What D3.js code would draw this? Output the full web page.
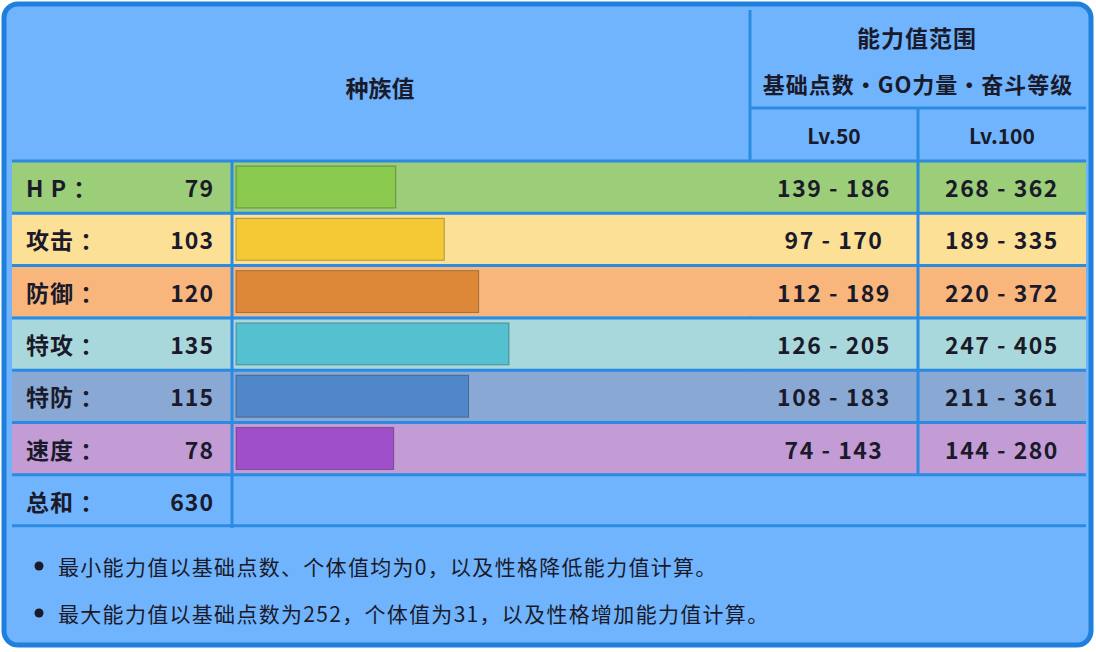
<!DOCTYPE html>
<html><head><meta charset="utf-8">
<script src="https://cdn.jsdelivr.net/npm/d3@7"></script>
<style>body{margin:0;background:#fff}</style>
</head><body><svg id="c" width="1096" height="652"></svg>
<script>
// stats table data
const statNames = ["H P ：", "攻击 ：", "防御 ：", "特攻 ：", "特防 ：", "速度 ："];
const baseStats = [79, 103, 120, 135, 115, 78];
const lv50 = ["139 - 186", "97 - 170", "112 - 189", "126 - 205", "108 - 183", "74 - 143"];
const lv100 = ["268 - 362", "189 - 335", "220 - 372", "247 - 405", "211 - 361", "144 - 280"];
const rowFill = ["#9ccd78", "#fbe096", "#f8b67c", "#a9d8dc", "#89a9d4", "#c39cd6"];
const barFill = ["#88c94e", "#f5c935", "#dc8838", "#54c0d0", "#4f87c9", "#a04fcb"];
const total = 630;
const notes = ["最小能力值以基础点数、个体值均为0，以及性格降低能力值计算。",
  "最大能力值以基础点数为252，个体值为31，以及性格增加能力值计算。"];

const svg = d3.select("#c");
const font = "'Noto Sans CJK SC', 'Noto Sans', sans-serif";
const line = "#2b8be3", head = "#70b4fd", ink = "#1a1a2a";

svg.append("rect").attr("x", 4).attr("y", 4).attr("width", 1087).attr("height", 641)
	.attr("rx", 14).attr("fill", head).attr("stroke", "#1f7fdc").attr("stroke-width", 5);

const colX = [12, 232, 750, 918, 1086];
const rowY = d3.range(7).map(i => 162 + i * 52.3);
const rowH = 50;
const x = d3.scaleLinear().domain([0, 135]).range([236, 509]);

// header lines
svg.append("line").attr("x1", colX[2]).attr("x2", colX[2]).attr("y1", 10).attr("y2", 476).attr("stroke", line).attr("stroke-width", 3);
svg.append("line").attr("x1", colX[2]).attr("x2", colX[4]).attr("y1", 108).attr("y2", 108).attr("stroke", line).attr("stroke-width", 3);
svg.append("line").attr("x1", colX[3]).attr("x2", colX[3]).attr("y1", 108).attr("y2", 160).attr("stroke", line).attr("stroke-width", 3);

const txt = (t, xx, yy, size, anchor, weight, ls) => svg.append("text").attr("x", xx).attr("y", yy)
	.attr("font-size", size).attr("font-family", font).attr("font-weight", weight || "bold")
	.attr("letter-spacing", ls || 0)
	.attr("text-anchor", anchor || "middle").attr("fill", ink).attr("dominant-baseline", "central").text(t);

txt("种族值", 380, 87, 23);
txt("能力值范围", 917, 37, 23, "middle", "bold", 1);
txt("基础点数・GO力量・奋斗等级", 918, 83, 22, "middle", "bold", 1);
txt("Lv.50", 834, 135, 21);
txt("Lv.100", 1002, 135, 21);

const rows = svg.selectAll("g.row").data(baseStats).join("g").attr("class", "row")
	.attr("transform", (d, i) => `translate(0,${rowY[i]})`);
rows.append("rect").attr("x", colX[0]).attr("width", colX[4] - colX[0]).attr("height", rowH)
	.attr("fill", (d, i) => rowFill[i]);
rows.append("rect").attr("x", x(0)).attr("y", 4).attr("width", d => x(d) - x(0)).attr("height", rowH - 8)
	.attr("fill", (d, i) => barFill[i]).attr("stroke", "rgba(0,0,0,0.3)");
rows.append("text").attr("x", 26).attr("y", rowH / 2).attr("letter-spacing", 1).text((d, i) => statNames[i]);
rows.append("text").attr("x", 214).attr("y", rowH / 2).attr("text-anchor", "end").attr("letter-spacing", 1).text(d => d);
rows.append("text").attr("x", 834).attr("y", rowH / 2).attr("text-anchor", "middle").attr("letter-spacing", 1.5).text((d, i) => lv50[i]);
rows.append("text").attr("x", 1002).attr("y", rowH / 2).attr("text-anchor", "middle").attr("letter-spacing", 1.5).text((d, i) => lv100[i]);
rows.selectAll("text").attr("font-family", font).attr("font-weight", "bold").attr("fill", ink)
	.attr("dominant-baseline", "central").attr("font-size", 23);

// total row
txt("总和 ：", 26, rowY[6] + rowH / 2, 23, "start", "bold", 1);
txt(total, 214, rowY[6] + rowH / 2, 23, "end", "bold", 1);

// grid lines
rowY.concat([rowY[6] + rowH + 1]).forEach(y => {
	svg.append("line").attr("x1", colX[0]).attr("x2", colX[4]).attr("y1", y - 1).attr("y2", y - 1)
		.attr("stroke", line).attr("stroke-width", 3);
});
svg.append("line").attr("x1", colX[1]).attr("x2", colX[1]).attr("y1", 160).attr("y2", 528).attr("stroke", line).attr("stroke-width", 3);
svg.append("line").attr("x1", colX[3]).attr("x2", colX[3]).attr("y1", 160).attr("y2", 476).attr("stroke", line).attr("stroke-width", 3);

notes.forEach((n, i) => {
	svg.append("circle").attr("cx", 39).attr("cy", 566 + i * 47).attr("r", 4.5).attr("fill", ink);
	txt(n, 58, 566 + i * 47, 21, "start", "normal", 1.3);
});
</script></body></html>
